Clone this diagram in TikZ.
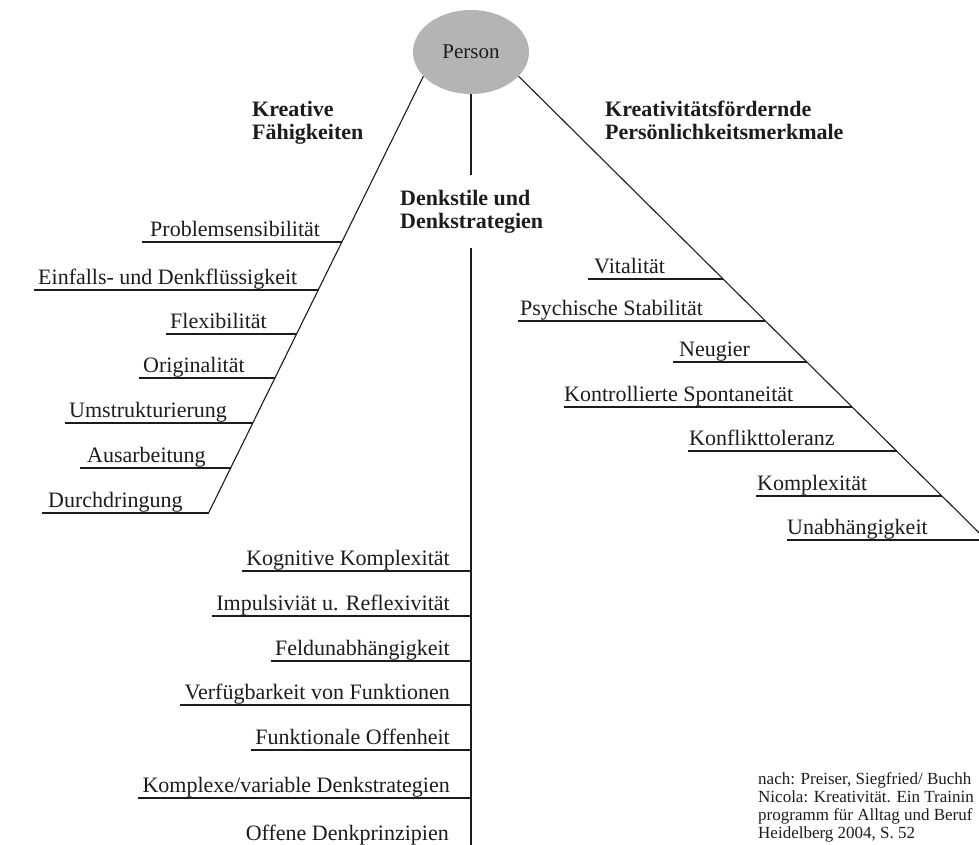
\documentclass[tikz,border=0pt]{standalone}
\usepackage{fontspec}
\setmainfont{Liberation Serif}
\usetikzlibrary{shapes.geometric,calc}
\definecolor{pgray}{RGB}{180,180,180}
\definecolor{ink}{RGB}{28,28,28}
\begin{document}
\begin{tikzpicture}[x=1pt,y=-1pt,
  item/.style={font={\fontsize{22}{26}\selectfont}, text=ink, inner sep=0pt},
  head/.style={font={\fontsize{22}{23}\selectfont\bfseries}, text=ink, inner sep=0pt},
  cite/.style={font={\fontsize{17}{18}\selectfont}, text=ink, inner sep=0pt},
  rule/.style={draw=ink, line width=1.1pt}]
\useasboundingbox (0,0) rectangle (979,845);
\clip (0,0) rectangle (979,845);

% central node
\node[ellipse, minimum width=116pt, minimum height=84pt, inner sep=0pt, fill=pgray,
      font={\fontsize{21}{24}\selectfont}, text=ink] (person) at (471,52) {Person};

% spines
\coordinate (lend) at (208.5,513);
\coordinate (rend) at (986.3,540);
\coordinate (mtop) at (471,175);
\coordinate (mbot) at (471,248);
\coordinate (mend) at (471,850);
\draw[rule] (person.207.5) -- (lend);
\draw[rule] (person.333.9) -- (rend);
\draw[rule] (person.south) -- (mtop);
\draw[rule] (mbot) -- (mend);

% headers
\node[head, anchor=base west] (hk) at (252,117)
  {\vtop{\baselineskip=23pt\hbox{Kreative}\hbox{Fähigkeiten}}};
\node[head, anchor=base west] (hd) at (400,205)
  {\vtop{\baselineskip=23pt\hbox{Denkstile und}\hbox{Denkstrategien}}};
\node[head, anchor=base west] (hp) at (605,117)
  {\vtop{\baselineskip=23pt\hbox{Kreativitätsfördernde}\hbox{Persönlichkeitsmerkmale}}};

% left branch
\foreach \n/\t/\tx/\sx/\ly/\ex in {
  l1/Problemsensibilität/150/142/242/342.4,
  l2/Einfalls- und Denkflüssigkeit/38/34/290/318.7,
  l3/Flexibilität/170/166/334/296.9,
  l4/Originalität/143/139/378/275.2,
  l5/Umstrukturierung/69/65/423/253,
  l6/Ausarbeitung/87/80/468/230.7,
  l7/Durchdringung/48/42/513/208.5} {
  \coordinate (\n-a) at (\sx,\ly);
  \coordinate (\n-b) at (\ex,\ly);
  \node[item, anchor=base west] (\n) at (\tx,\ly-6) {\t};
  \draw[rule] (\n-a) -- (\n-b);
}

% right branch
\foreach \n/\t/\tx/\sx/\ly/\ex in {
  r1/Vitalität/594/588/279/723,
  r2/Psychische Stabilität/520/518/321/765.4,
  r3/Neugier/679/673/362/806.7,
  r4/Kontrollierte Spontaneität/564/564/407/852.2,
  r5/Konflikttoleranz/689/688/451/896.5,
  r6/Komplexität/757/756/496/942,
  r7/Unabhängigkeit/787/787/540/990} {
  \coordinate (\n-a) at (\sx,\ly);
  \coordinate (\n-b) at (\ex,\ly);
  \node[item, anchor=base west] (\n) at (\tx,\ly-6) {\t};
  \draw[rule] (\n-a) -- (\n-b);
}

% middle branch
\foreach \n/\t/\ly in {
  m1/Kognitive Komplexität/571,
  m2/Impulsiviät u. Reflexivität/616,
  m3/Feldunabhängigkeit/661,
  m4/Verfügbarkeit von Funktionen/705,
  m5/Funktionale Offenheit/750,
  m6/{Komplexe/variable Denkstrategien}/798} {
  \node[item, anchor=base east] (\n) at (450,\ly-6) {\t};
  \coordinate (\n-a) at ($(\n.base west)+(-4pt,-6pt)$);
  \draw[rule] (\n-a) -- (\n-a -| mtop);
}
\node[item, anchor=base east] (m7) at (449,840) {Offene Denkprinzipien};

% source
\node[cite, anchor=base west] (src) at (758,784)
  {\vtop{\baselineskip=18pt\hbox{nach: Preiser, Siegfried/ Buchh}\hbox{Nicola: Kreativität. Ein Trainin}\hbox{programm für Alltag und Beruf}\hbox{Heidelberg 2004, S. 52}}};
\end{tikzpicture}
\end{document}
